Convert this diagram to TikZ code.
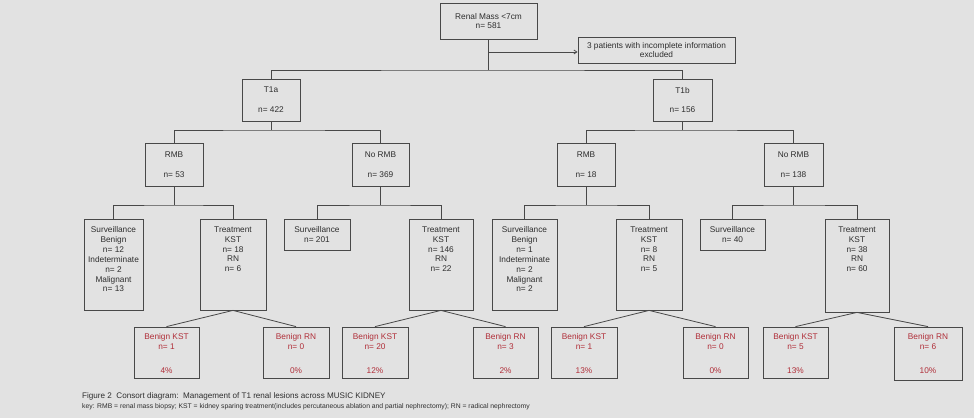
\documentclass[tikz,border=0pt]{standalone}
\usepackage{fontspec}
\setmainfont{Liberation Sans}
\usetikzlibrary{arrows.meta}
\definecolor{bgc}{HTML}{E2E2E2}
\definecolor{linec}{HTML}{484848}
\definecolor{txtc}{HTML}{2E2E2E}
\definecolor{redc}{HTML}{B02E38}
\newcommand{\bc}[3]{\parbox[c][#2pt][c]{#1pt}{\centering #3}}
\newcommand{\bx}[4]{\parbox[c][#2pt][t]{#1pt}{\centering\vspace*{#3pt}#4}}
\begin{document}
\begin{tikzpicture}[x=1pt,y=-1pt,
  box/.style={draw=linec, line width=0.8pt, inner sep=0pt, text=txtc, font=\fontsize{8.3}{9.9}\selectfont},
  benign/.style={box, text=redc},
  conn/.style={draw=linec, line width=0.8pt}]
\fill[bgc] (0,0) rectangle (974,418);
\useasboundingbox (0,0) rectangle (974,418);
% level 1
\node[box] (top) at (488.5,21) {\bc{97}{36}{Renal Mass <7cm\\ n= 581}};
\node[box] (excl) at (656.5,50) {\bc{157}{26}{3 patients with incomplete information\\ excluded}};
% level 2
\node[box] (t1a) at (271,100) {\bc{58}{42}{T1a\\[10pt] n= 422}};
\node[box] (t1b) at (682.5,100) {\bc{59}{42}{T1b\\[10pt] n= 156}};
% level 3
\node[box] (rmbL) at (174,164.5) {\bc{58}{43}{RMB\\[10pt] n= 53}};
\node[box] (normbL) at (380.5,164.5) {\bc{57}{43}{No RMB\\[10pt] n= 369}};
\node[box] (rmbR) at (586,164.5) {\bc{58}{43}{RMB\\[10pt] n= 18}};
\node[box] (normbR) at (793.5,164.5) {\bc{59}{43}{No RMB\\[10pt] n= 138}};
% level 4
\node[box] (survL1) at (113.5,264.5) {\bx{59}{91}{7.5}{Surveillance\\ Benign\\ n= 12\\ Indeterminate\\ n= 2\\ Malignant\\ n= 13}};
\node[box] (treatL1) at (233,264.5) {\bx{66}{91}{7.5}{Treatment\\ KST\\ n= 18\\ RN\\ n= 6}};
\node[box] (survL2) at (317,234.5) {\bc{66}{31}{Surveillance\\ n= 201}};
\node[box] (treatL2) at (441,264.5) {\bx{64}{91}{7.5}{Treatment\\ KST\\ n= 146\\ RN\\ n= 22}};
\node[box] (survR1) at (524.5,264.5) {\bx{65}{91}{7.5}{Surveillance\\ Benign\\ n= 1\\ Indeterminate\\ n= 2\\ Malignant\\ n= 2}};
\node[box] (treatR1) at (649,264.5) {\bx{66}{91}{7.5}{Treatment\\ KST\\ n= 8\\ RN\\ n= 5}};
\node[box] (survR2) at (732.5,234.5) {\bc{65}{31}{Surveillance\\ n= 40}};
\node[box] (treatR2) at (857,265.5) {\bx{64}{93}{7.5}{Treatment\\ KST\\ n= 38\\ RN\\ n= 60}};
% level 5
\node[benign] (B1) at (166.5,352.5) {\bx{65}{51}{6.5}{Benign KST\\ n= 1\\[14pt] 4\%}};
\node[benign] (B2) at (296,352.5) {\bx{66}{51}{6.5}{Benign RN\\ n= 0\\[14pt] 0\%}};
\node[benign] (B3) at (375,352.5) {\bx{66}{51}{6.5}{Benign KST\\ n= 20\\[14pt] 12\%}};
\node[benign] (B4) at (505.5,352.5) {\bx{65}{51}{6.5}{Benign RN\\ n= 3\\[14pt] 2\%}};
\node[benign] (B5) at (584,352.5) {\bx{66}{51}{6.5}{Benign KST\\ n= 1\\[14pt] 13\%}};
\node[benign] (B6) at (715.5,352.5) {\bx{65}{51}{6.5}{Benign RN\\ n= 0\\[14pt] 0\%}};
\node[benign] (B7) at (795.5,352.5) {\bx{65}{51}{6.5}{Benign KST\\ n= 5\\[14pt] 13\%}};
\node[benign] (B8) at (928,353.5) {\bx{68}{53}{6.5}{Benign RN\\ n= 6\\[14pt] 10\%}};
% connectors
\coordinate (b1) at (488.5,70);
\coordinate (br) at (488.5,52);
\draw[conn] (top.south) -- (b1);
\draw[conn] (t1a.north) |- (b1) -| (t1b.north);
\draw[conn,-{Straight Barb[length=3pt,width=4pt]}] (br) -- (br -| excl.west);
\coordinate (b2L) at (271,130);
\coordinate (b2R) at (682.5,130);
\draw[conn] (t1a.south) -- (b2L);
\draw[conn] (rmbL.north) |- (b2L) -| (normbL.north);
\draw[conn] (t1b.south) -- (b2R);
\draw[conn] (rmbR.north) |- (b2R) -| (normbR.north);
\coordinate (b3a) at (174,205);
\coordinate (b3b) at (380.5,205);
\coordinate (b3c) at (586,205);
\coordinate (b3d) at (793.5,205);
\draw[conn] (rmbL.south) -- (b3a);
\draw[conn] (survL1.north) |- (b3a) -| (treatL1.north);
\draw[conn] (normbL.south) -- (b3b);
\draw[conn] (survL2.north) |- (b3b) -| (treatL2.north);
\draw[conn] (rmbR.south) -- (b3c);
\draw[conn] (survR1.north) |- (b3c) -| (treatR1.north);
\draw[conn] (normbR.south) -- (b3d);
\draw[conn] (survR2.north) |- (b3d) -| (treatR2.north);
\draw[conn] (B1.north) -- (treatL1.south) -- (B2.north);
\draw[conn] (B3.north) -- (treatL2.south) -- (B4.north);
\draw[conn] (B5.north) -- (treatR1.south) -- (B6.north);
\draw[conn] (B7.north) -- (treatR2.south) -- (B8.north);
% caption
\node[anchor=base west, inner sep=0pt, text=txtc, font=\fontsize{8.1}{10}\selectfont] (cap) at (82,398) {Figure 2\ \ Consort diagram:\ \ Management of T1 renal lesions across MUSIC KIDNEY};
\node[anchor=base west, inner sep=0pt, text=txtc, font=\fontsize{6.8}{8}\selectfont] (key) at (82,408) {key: RMB = renal mass biopsy; KST = kidney sparing treatment(includes percutaneous ablation and partial nephrectomy); RN = radical nephrectomy};
\end{tikzpicture}
\end{document}
